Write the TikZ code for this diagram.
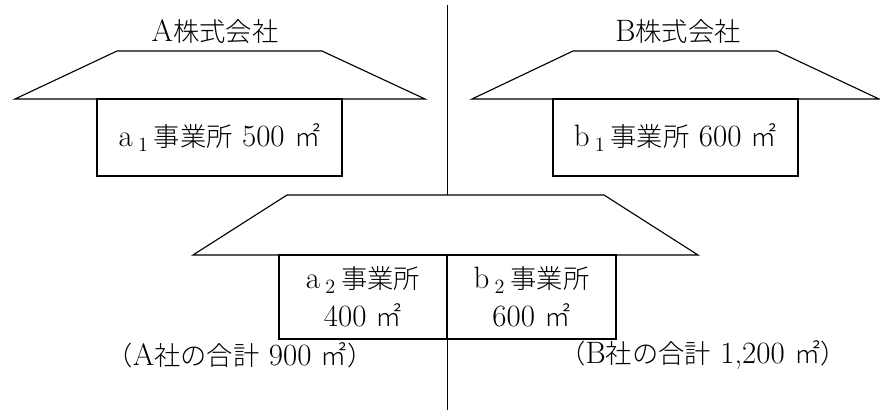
\documentclass[tikz,border=0pt]{standalone}
\usepackage{fontspec}
\newfontfamily\cjk[Scale=0.85,UprightFont=* Light]{Noto Sans CJK JP}
\begin{document}
\begin{tikzpicture}[x=0.025cm,y=-0.025cm,line width=0.8pt,
    font=\fontsize{22}{27}\selectfont,
    office/.style={draw,inner sep=0pt,align=center}]
\useasboundingbox (0,0) rectangle (880,410);
% divider
\draw[line width=0.6pt] (447,5) -- (447,410);
% A roof
\draw[fill=white] (117,51) -- (322,51) -- (425,99) -- (15,99) -- cycle;
% B roof
\draw[fill=white] (573,51) -- (777,51) -- (879,99) -- (472,99) -- cycle;
% shared roof
\draw[fill=white] (287,195) -- (604,195) -- (698,255) -- (193,255) -- cycle;
% companies
\node (compA) at (215,32) {A{\cjk 株式会社}};
\node (compB) at (678,32) {B{\cjk 株式会社}};
% offices
\node[office,minimum width=6.125cm,minimum height=1.925cm] (a1) at (219.5,137.5) {a\,$_1$\,{\cjk 事業所} 500 {\cjk ㎡}};
\node[office,minimum width=6.125cm,minimum height=1.925cm] (b1) at (675.5,137.5) {b\,$_1$\,{\cjk 事業所} 600 {\cjk ㎡}};
\node[office,minimum width=4.2cm,minimum height=2.1cm] (a2) at (363,297) {a\,$_2$\,{\cjk 事業所}\\400 {\cjk ㎡}};
\node[office,minimum width=4.225cm,minimum height=2.1cm] (b2) at (531.5,297) {b\,$_2$\,{\cjk 事業所}\\600 {\cjk ㎡}};
% totals
\node (sumA) at (240,355) {{\cjk （}A{\cjk 社の合計} 900 {\cjk ㎡）}};
\node (sumB) at (703,355) {{\cjk （}B{\cjk 社の合計} 1,200 {\cjk ㎡）}};
\end{tikzpicture}
\end{document}
